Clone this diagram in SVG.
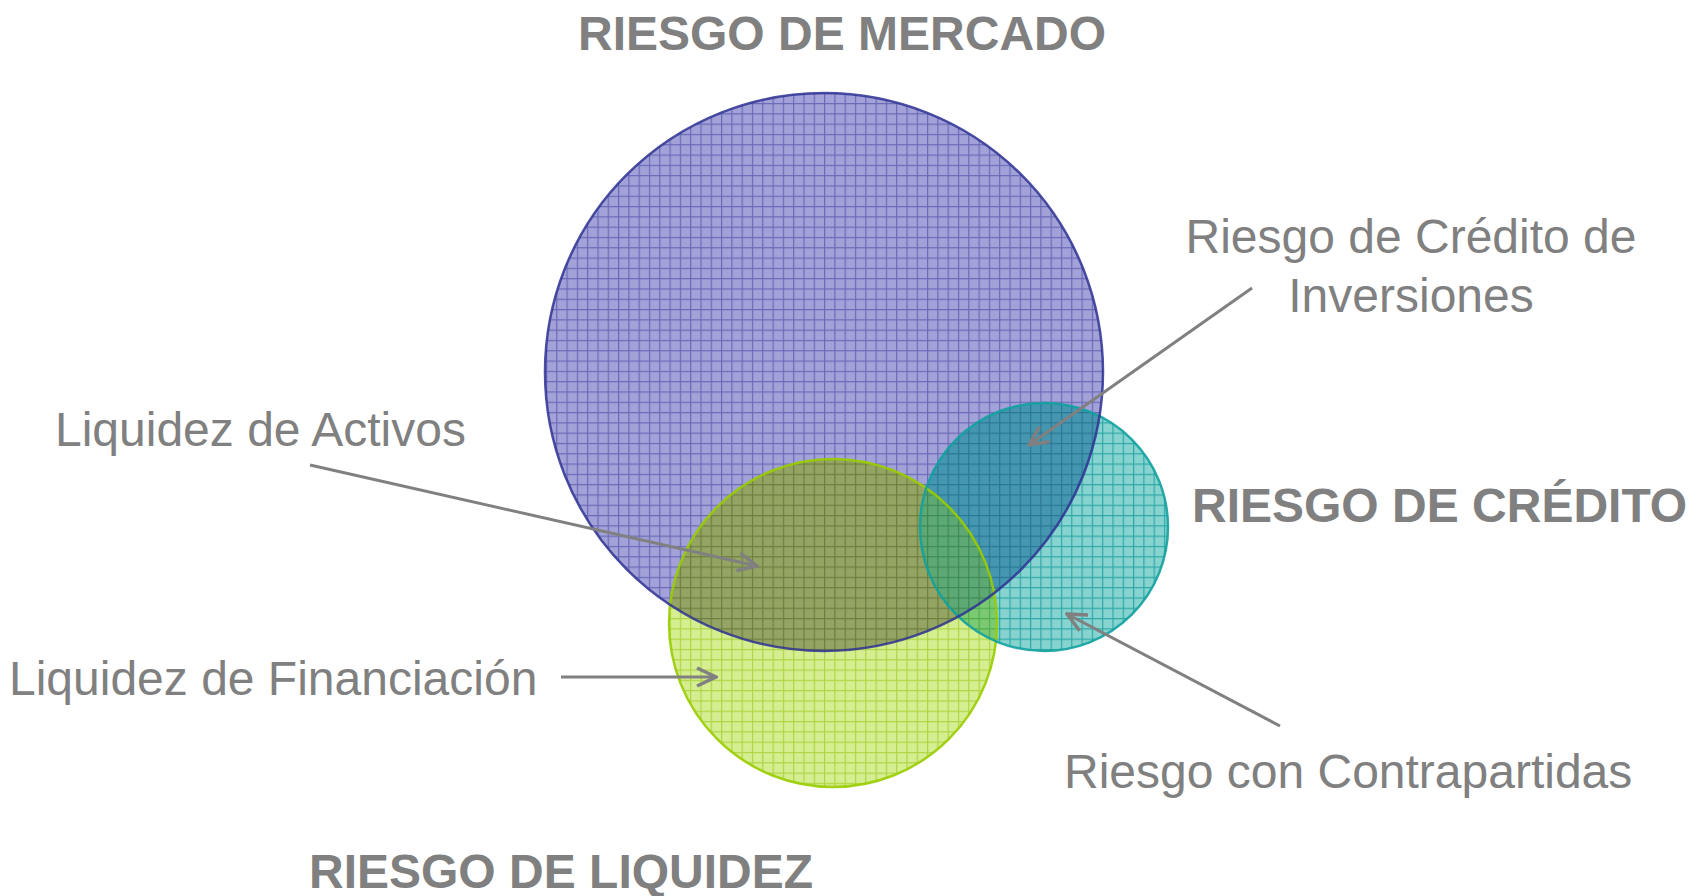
<svg xmlns="http://www.w3.org/2000/svg" width="1704" height="896" viewBox="0 0 1704 896">
  <style>
    .lbl { font-family: "Liberation Sans", Arial, sans-serif; font-size: 48px; fill: #808080; }
    .ttl { font-family: "Liberation Sans", Arial, sans-serif; font-size: 48px; font-weight: bold; fill: #808080; }
    .arr { stroke: #808080; stroke-width: 3; fill: none; marker-end: url(#ah); }
    .edge { fill: none; stroke-width: 2.5; }
  </style>
  <defs>
    <marker id="ah" viewBox="0 0 24 24" refX="22" refY="12" markerWidth="24" markerHeight="24" markerUnits="userSpaceOnUse" orient="auto">
      <path d="M3,3 L22,12 L3,21" fill="none" stroke="#808080" stroke-width="3.5"/>
    </marker>
    <pattern id="pBlue" width="10.3" height="10.3" patternUnits="userSpaceOnUse">
      <rect width="10.3" height="10.3" fill="#a2a2d8"/>
      <rect width="10.3" height="1.2" fill="#6a6ab8"/>
      <rect width="1.2" height="10.3" fill="#6a6ab8"/>
    </pattern>
    <pattern id="pTeal" width="10.3" height="10.3" patternUnits="userSpaceOnUse">
      <rect width="10.3" height="10.3" fill="#86d3d0"/>
      <rect width="10.3" height="1.2" fill="#2fa9a6"/>
      <rect width="1.2" height="10.3" fill="#2fa9a6"/>
    </pattern>
    <pattern id="pGreen" width="10.3" height="10.3" patternUnits="userSpaceOnUse">
      <rect width="10.3" height="10.3" fill="#d6ee92"/>
      <rect width="10.3" height="1.2" fill="#aed544"/>
      <rect width="1.2" height="10.3" fill="#aed544"/>
    </pattern>
    <pattern id="pBG" width="10.3" height="10.3" patternUnits="userSpaceOnUse">
      <rect width="10.3" height="10.3" fill="#94a462"/>
      <rect width="10.3" height="1.2" fill="#6d7f40"/>
      <rect width="1.2" height="10.3" fill="#6d7f40"/>
    </pattern>
    <pattern id="pBT" width="10.3" height="10.3" patternUnits="userSpaceOnUse">
      <rect width="10.3" height="10.3" fill="#4596b0"/>
      <rect width="10.3" height="1.2" fill="#2b7796"/>
      <rect width="1.2" height="10.3" fill="#2b7796"/>
    </pattern>
    <pattern id="pGT" width="10.3" height="10.3" patternUnits="userSpaceOnUse">
      <rect width="10.3" height="10.3" fill="#7cc974"/>
      <rect width="10.3" height="1.2" fill="#4faf4a"/>
      <rect width="1.2" height="10.3" fill="#4faf4a"/>
    </pattern>
    <pattern id="pBGT" width="10.3" height="10.3" patternUnits="userSpaceOnUse">
      <rect width="10.3" height="10.3" fill="#5ea873"/>
      <rect width="10.3" height="1.2" fill="#3d8a55"/>
      <rect width="1.2" height="10.3" fill="#3d8a55"/>
    </pattern>
    <clipPath id="cBlue"><circle cx="824" cy="372" r="279"/></clipPath>
    <clipPath id="cGreen"><circle cx="833" cy="623" r="164"/></clipPath>
  </defs>

  <g id="mercado">
    <circle cx="824" cy="372" r="279" fill="url(#pBlue)"/>
  </g>
  <g id="liquidez">
    <circle cx="833" cy="623" r="164" fill="url(#pGreen)"/>
  </g>
  <g id="credito">
    <circle cx="1044" cy="527" r="124" fill="url(#pTeal)"/>
  </g>
  <g id="overlaps">
    <g clip-path="url(#cGreen)"><circle cx="1044" cy="527" r="124" fill="url(#pGT)"/></g>
    <g clip-path="url(#cBlue)"><circle cx="833" cy="623" r="164" fill="url(#pBG)"/></g>
    <g clip-path="url(#cBlue)"><circle cx="1044" cy="527" r="124" fill="url(#pBT)"/></g>
    <g clip-path="url(#cBlue)"><g clip-path="url(#cGreen)"><circle cx="1044" cy="527" r="124" fill="url(#pBGT)"/></g></g>
  </g>
  <g id="edges">
    <circle class="edge" cx="833" cy="623" r="164" stroke="#99cc00" stroke-opacity="0.9"/>
    <circle class="edge" cx="1044" cy="527" r="124" stroke="#12a19e" stroke-opacity="0.9"/>
    <circle class="edge" cx="824" cy="372" r="279" stroke="#2e3192" stroke-opacity="0.85"/>
  </g>

  <g id="connectors">
    <line class="arr" x1="1252" y1="288" x2="1029" y2="445"/>
    <line class="arr" x1="310" y1="465" x2="757" y2="566"/>
    <line class="arr" x1="561" y1="677" x2="716" y2="677"/>
    <line class="arr" x1="1280" y1="726" x2="1067" y2="614"/>
  </g>

  <g id="titles">
    <text class="ttl" x="578" y="50">RIESGO DE MERCADO</text>
    <text class="ttl" x="1192" y="522">RIESGO DE CRÉDITO</text>
    <text class="ttl" x="309" y="888">RIESGO DE LIQUIDEZ</text>
  </g>
  <g id="labels">
    <text class="lbl" x="1411" y="253" text-anchor="middle">Riesgo de Crédito de</text>
    <text class="lbl" x="1411" y="312" text-anchor="middle">Inversiones</text>
    <text class="lbl" x="55" y="446">Liquidez de Activos</text>
    <text class="lbl" x="9" y="695">Liquidez de Financiación</text>
    <text class="lbl" x="1064" y="788">Riesgo con Contrapartidas</text>
  </g>
</svg>
